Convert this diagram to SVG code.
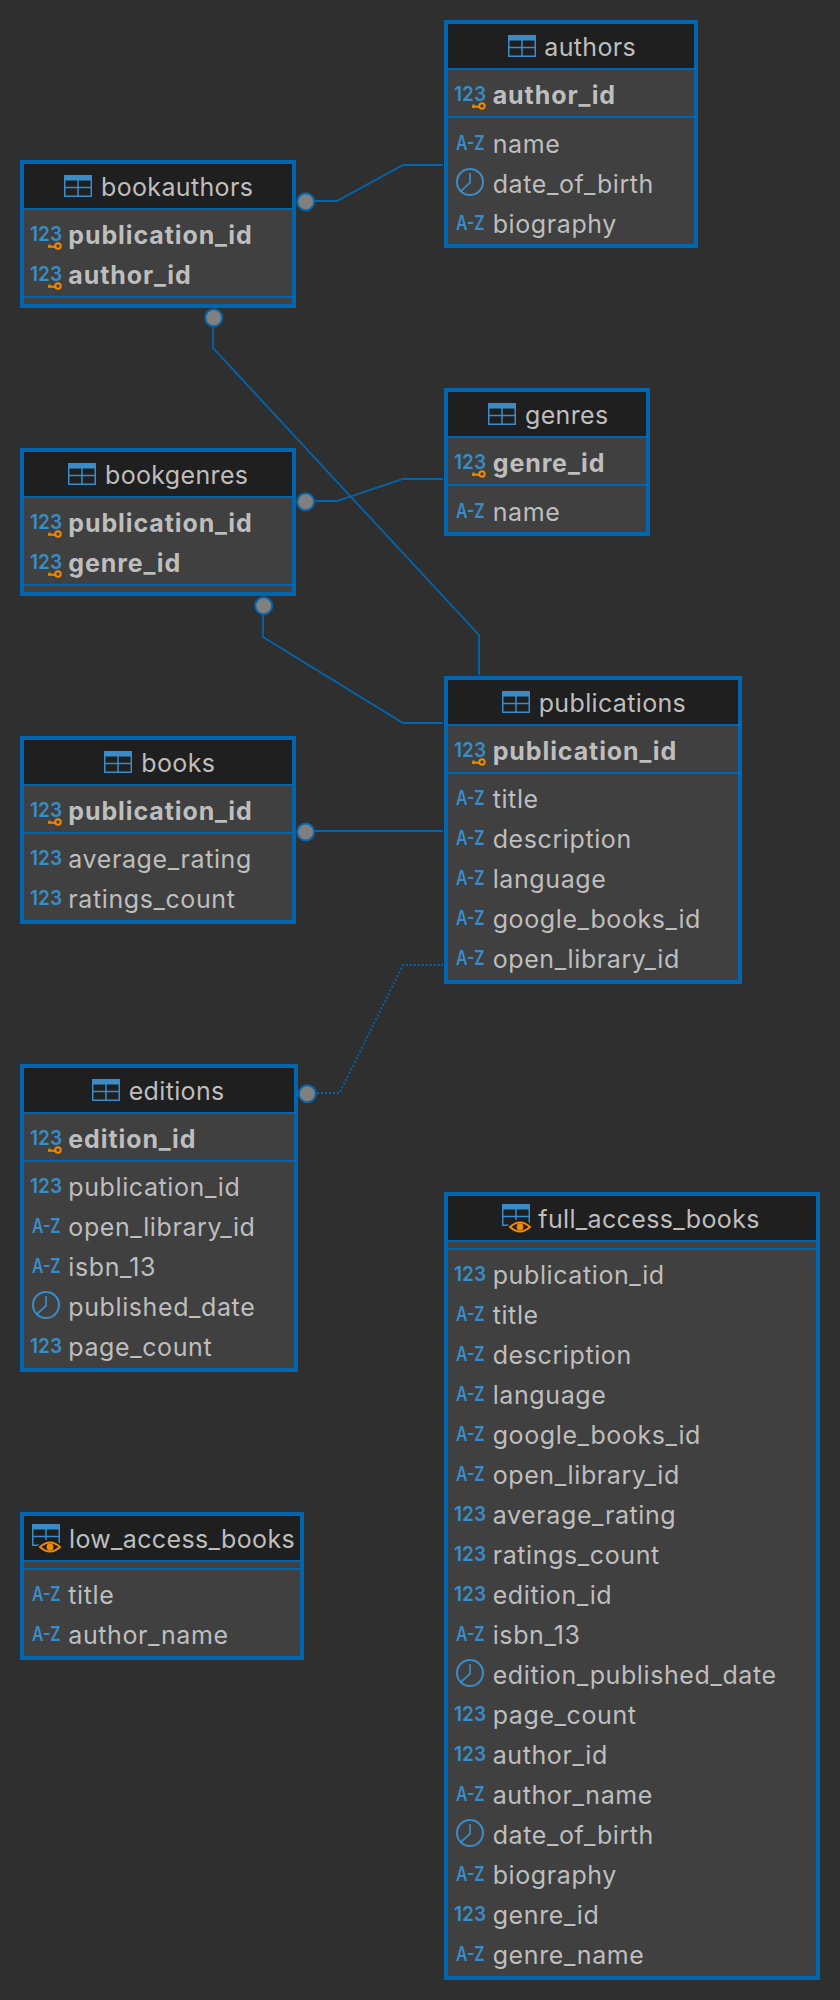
<svg xmlns="http://www.w3.org/2000/svg" width="840" height="2000" viewBox="0 0 840 2000">
<style>
text{font-family:Inter,"Liberation Sans",sans-serif;font-size:25px;letter-spacing:.6px;fill:#bebebe;transform:translateY(.5px)}
.n{letter-spacing:.35px}
.k{font-weight:700;letter-spacing:.9px}
.i{font-size:20px;font-weight:600;letter-spacing:0;fill:#3a8cc8;transform:none}
.b{fill:#404040;stroke:#0066b0;stroke-width:4}
.h{fill:#1f1f1f}
.l{stroke:#0066b0;stroke-width:2;fill:none}
.c{stroke:#0066b0;stroke-width:1.8;fill:none}
.d{stroke-dasharray:2 2}
.e{fill:#808080;stroke:#0066b0;stroke-width:2}
</style>
<defs>
<g id="t"><rect x="0.75" y="0.75" width="26.5" height="20.5" fill="none" stroke="#3a8cc8" stroke-width="1.5"/><rect width="28" height="5.5" fill="#3a8cc8"/><path d="M1 12.5H27M14 5V21" stroke="#3a8cc8" stroke-width="1.5" fill="none"/></g>
<g id="y"><path d="M-10 0Q0 -10 10 0Q0 10 -10 0Z" fill="#1f1f1f" stroke="#1f1f1f" stroke-width="5"/><path d="M-10 0Q0 -9 10 0Q0 9 -10 0Z" fill="none" stroke="#f08a00" stroke-width="2"/><circle r="3.4" fill="#f08a00"/></g>
<g id="key"><circle r="2.7" fill="none" stroke="#f08a00" stroke-width="2"/><path d="M-10 .7H-3M-8.500 .7V-1.600" fill="none" stroke="#f08a00" stroke-width="2"/></g>
<g id="clk"><circle r="13" fill="none" stroke="#3a8cc8" stroke-width="2"/><path d="M0 -9V.7L-8.500 8.700" fill="none" stroke="#3a8cc8" stroke-width="1.7"/></g>
</defs>
<rect width="840" height="2000" fill="#2f2f2f"/>

<g id="connectors">
<path class="c" d="M315 201H337L403 165H443"/>
<path class="c" d="M213 327V348L479 635V675"/>
<path class="c" d="M315 501H337L403 479H443"/>
<path class="c" d="M263 615V637L403 723H443"/>
<path class="c" d="M315 831H443"/>
<path class="c d" d="M317 1093H339.500L403 965H443"/>
<circle class="e" cx="305.700" cy="201.700" r="8.500"/>
<circle class="e" cx="213.700" cy="317.700" r="8.500"/>
<circle class="e" cx="305.700" cy="501.700" r="8.500"/>
<circle class="e" cx="263.700" cy="605.700" r="8.500"/>
<circle class="e" cx="305.700" cy="832" r="8.500"/>
<circle class="e" cx="307.300" cy="1093.700" r="8.500"/>
</g>

<g id="authors">
<rect class="b" x="446" y="22" width="250" height="224"/>
<rect class="h" x="448" y="24" width="246" height="44"/>
<path class="l" d="M448 69H694M448 117H694"/>
<use href="#t" x="508" y="35"/><text class="n" x="544.300" y="55">authors</text>
<text class="i" x="454" y="101" textLength="32" lengthAdjust="spacingAndGlyphs">123</text><use href="#key" x="482" y="106"/><text class="k" x="492.700" y="103">author_id</text>
<text class="i" x="456" y="150" textLength="28.500" lengthAdjust="spacingAndGlyphs">A-Z</text><text x="492.700" y="152">name</text>
<use href="#clk" x="470" y="182"/><text x="492.700" y="192">date_of_birth</text>
<text class="i" x="456" y="230" textLength="28.500" lengthAdjust="spacingAndGlyphs">A-Z</text><text x="492.700" y="232">biography</text>
</g>

<g id="bookauthors">
<rect class="b" x="22" y="162" width="272" height="144"/>
<rect class="h" x="24" y="164" width="268" height="44"/>
<path class="l" d="M24 209H292M24 297H292"/>
<use href="#t" x="64" y="175"/><text class="n" x="101" y="195">bookauthors</text>
<text class="i" x="30" y="241" textLength="32" lengthAdjust="spacingAndGlyphs">123</text><use href="#key" x="58" y="246"/><text class="k" x="68.300" y="243">publication_id</text>
<text class="i" x="30" y="281" textLength="32" lengthAdjust="spacingAndGlyphs">123</text><use href="#key" x="58" y="286"/><text class="k" x="68.300" y="283">author_id</text>
</g>

<g id="genres">
<rect class="b" x="446" y="390" width="202" height="144"/>
<rect class="h" x="448" y="392" width="198" height="44"/>
<path class="l" d="M448 437H646M448 485H646"/>
<use href="#t" x="488" y="403"/><text class="n" x="525" y="423">genres</text>
<text class="i" x="454" y="469" textLength="32" lengthAdjust="spacingAndGlyphs">123</text><use href="#key" x="482" y="474"/><text class="k" x="492.700" y="471">genre_id</text>
<text class="i" x="456" y="518" textLength="28.500" lengthAdjust="spacingAndGlyphs">A-Z</text><text x="492.700" y="520">name</text>
</g>

<g id="bookgenres">
<rect class="b" x="22" y="450" width="272" height="144"/>
<rect class="h" x="24" y="452" width="268" height="44"/>
<path class="l" d="M24 497H292M24 585H292"/>
<use href="#t" x="68" y="463"/><text class="n" x="105" y="483">bookgenres</text>
<text class="i" x="30" y="529" textLength="32" lengthAdjust="spacingAndGlyphs">123</text><use href="#key" x="58" y="534"/><text class="k" x="68.300" y="531">publication_id</text>
<text class="i" x="30" y="569" textLength="32" lengthAdjust="spacingAndGlyphs">123</text><use href="#key" x="58" y="574"/><text class="k" x="68.300" y="571">genre_id</text>
</g>

<g id="publications">
<rect class="b" x="446" y="678" width="294" height="304"/>
<rect class="h" x="448" y="680" width="290" height="44"/>
<path class="l" d="M448 725H738M448 773H738"/>
<use href="#t" x="502" y="691"/><text class="n" x="538.700" y="711">publications</text>
<text class="i" x="454" y="757" textLength="32" lengthAdjust="spacingAndGlyphs">123</text><use href="#key" x="482" y="762"/><text class="k" x="492.700" y="759">publication_id</text>
<text class="i" x="456" y="805" textLength="28.500" lengthAdjust="spacingAndGlyphs">A-Z</text><text x="492.700" y="807">title</text>
<text class="i" x="456" y="845" textLength="28.500" lengthAdjust="spacingAndGlyphs">A-Z</text><text x="492.700" y="847">description</text>
<text class="i" x="456" y="885" textLength="28.500" lengthAdjust="spacingAndGlyphs">A-Z</text><text x="492.700" y="887">language</text>
<text class="i" x="456" y="925" textLength="28.500" lengthAdjust="spacingAndGlyphs">A-Z</text><text x="492.700" y="927">google_books_id</text>
<text class="i" x="456" y="965" textLength="28.500" lengthAdjust="spacingAndGlyphs">A-Z</text><text x="492.700" y="967">open_library_id</text>
</g>

<g id="books">
<rect class="b" x="22" y="738" width="272" height="184"/>
<rect class="h" x="24" y="740" width="268" height="44"/>
<path class="l" d="M24 785H292M24 833H292"/>
<use href="#t" x="104" y="751"/><text class="n" x="141.300" y="771">books</text>
<text class="i" x="30" y="817" textLength="32" lengthAdjust="spacingAndGlyphs">123</text><use href="#key" x="58" y="822"/><text class="k" x="68.300" y="819">publication_id</text>
<text class="i" x="30" y="865" textLength="32" lengthAdjust="spacingAndGlyphs">123</text><text x="68.300" y="867">average_rating</text>
<text class="i" x="30" y="905" textLength="32" lengthAdjust="spacingAndGlyphs">123</text><text x="68.300" y="907">ratings_count</text>
</g>

<g id="editions">
<rect class="b" x="22" y="1066" width="274" height="304"/>
<rect class="h" x="24" y="1068" width="270" height="44"/>
<path class="l" d="M24 1113H294M24 1161H294"/>
<use href="#t" x="92" y="1079"/><text class="n" x="128.700" y="1099">editions</text>
<text class="i" x="30" y="1145" textLength="32" lengthAdjust="spacingAndGlyphs">123</text><use href="#key" x="58" y="1150"/><text class="k" x="68.300" y="1147">edition_id</text>
<text class="i" x="30" y="1193" textLength="32" lengthAdjust="spacingAndGlyphs">123</text><text x="68.300" y="1195">publication_id</text>
<text class="i" x="32" y="1233" textLength="28.500" lengthAdjust="spacingAndGlyphs">A-Z</text><text x="68.300" y="1235">open_library_id</text>
<text class="i" x="32" y="1273" textLength="28.500" lengthAdjust="spacingAndGlyphs">A-Z</text><text x="68.300" y="1275">isbn_13</text>
<use href="#clk" x="46" y="1305"/><text x="68.300" y="1315">published_date</text>
<text class="i" x="30" y="1353" textLength="32" lengthAdjust="spacingAndGlyphs">123</text><text x="68.300" y="1355">page_count</text>
</g>

<g id="low_access_books">
<rect class="b" x="22" y="1514" width="280" height="144"/>
<rect class="h" x="24" y="1516" width="276" height="44"/>
<path class="l" d="M24 1561H300M24 1569H300"/>
<use href="#t" x="32" y="1524"/><use href="#y" x="50" y="1547"/><text class="n" x="69" y="1547">low_access_books</text>
<text class="i" x="32" y="1601" textLength="28.500" lengthAdjust="spacingAndGlyphs">A-Z</text><text x="68.300" y="1603">title</text>
<text class="i" x="32" y="1641" textLength="28.500" lengthAdjust="spacingAndGlyphs">A-Z</text><text x="68.300" y="1643">author_name</text>
</g>

<g id="full_access_books">
<rect class="b" x="446" y="1194" width="372" height="784"/>
<rect class="h" x="448" y="1196" width="368" height="44"/>
<path class="l" d="M448 1241H816M448 1249H816"/>
<use href="#t" x="502" y="1204"/><use href="#y" x="520" y="1227"/><text class="n" x="538.300" y="1227">full_access_books</text>
<text class="i" x="454" y="1281" textLength="32" lengthAdjust="spacingAndGlyphs">123</text><text x="492.700" y="1283">publication_id</text>
<text class="i" x="456" y="1321" textLength="28.500" lengthAdjust="spacingAndGlyphs">A-Z</text><text x="492.700" y="1323">title</text>
<text class="i" x="456" y="1361" textLength="28.500" lengthAdjust="spacingAndGlyphs">A-Z</text><text x="492.700" y="1363">description</text>
<text class="i" x="456" y="1401" textLength="28.500" lengthAdjust="spacingAndGlyphs">A-Z</text><text x="492.700" y="1403">language</text>
<text class="i" x="456" y="1441" textLength="28.500" lengthAdjust="spacingAndGlyphs">A-Z</text><text x="492.700" y="1443">google_books_id</text>
<text class="i" x="456" y="1481" textLength="28.500" lengthAdjust="spacingAndGlyphs">A-Z</text><text x="492.700" y="1483">open_library_id</text>
<text class="i" x="454" y="1521" textLength="32" lengthAdjust="spacingAndGlyphs">123</text><text x="492.700" y="1523">average_rating</text>
<text class="i" x="454" y="1561" textLength="32" lengthAdjust="spacingAndGlyphs">123</text><text x="492.700" y="1563">ratings_count</text>
<text class="i" x="454" y="1601" textLength="32" lengthAdjust="spacingAndGlyphs">123</text><text x="492.700" y="1603">edition_id</text>
<text class="i" x="456" y="1641" textLength="28.500" lengthAdjust="spacingAndGlyphs">A-Z</text><text x="492.700" y="1643">isbn_13</text>
<use href="#clk" x="470" y="1673"/><text x="492.700" y="1683">edition_published_date</text>
<text class="i" x="454" y="1721" textLength="32" lengthAdjust="spacingAndGlyphs">123</text><text x="492.700" y="1723">page_count</text>
<text class="i" x="454" y="1761" textLength="32" lengthAdjust="spacingAndGlyphs">123</text><text x="492.700" y="1763">author_id</text>
<text class="i" x="456" y="1801" textLength="28.500" lengthAdjust="spacingAndGlyphs">A-Z</text><text x="492.700" y="1803">author_name</text>
<use href="#clk" x="470" y="1833"/><text x="492.700" y="1843">date_of_birth</text>
<text class="i" x="456" y="1881" textLength="28.500" lengthAdjust="spacingAndGlyphs">A-Z</text><text x="492.700" y="1883">biography</text>
<text class="i" x="454" y="1921" textLength="32" lengthAdjust="spacingAndGlyphs">123</text><text x="492.700" y="1923">genre_id</text>
<text class="i" x="456" y="1961" textLength="28.500" lengthAdjust="spacingAndGlyphs">A-Z</text><text x="492.700" y="1963">genre_name</text>
</g>
</svg>
